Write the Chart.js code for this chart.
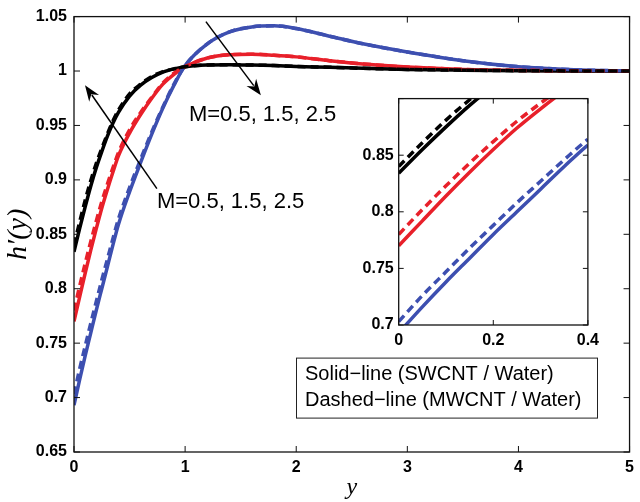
<!DOCTYPE html>
<html>
<head>
<meta charset="utf-8">
<script src="https://cdn.jsdelivr.net/npm/chart.js@4/dist/chart.umd.min.js"></script>
<style>
  html, body { margin: 0; padding: 0; background: #fff; }
  #wrap { position: relative; width: 640px; height: 502px; }
  #main { position: absolute; left: 0; top: 0; }
  #inset { position: absolute; left: 350px; top: 84px; }
</style>
</head>
<body>
<div id="wrap">
  <canvas id="main" width="640" height="502"></canvas>
  <canvas id="inset" width="255" height="268"></canvas>
</div>
<script>
// valores
const xValues = [0, 0.05, 0.1, 0.15, 0.2, 0.25, 0.3, 0.35, 0.4, 0.5, 0.6, 0.7, 0.8, 0.9, 1.0,
                 1.2, 1.4, 1.6, 1.8, 2.0, 2.3, 2.6, 3.0, 3.5, 4.0, 4.5, 5.0];

const blackSolid  = [0.834, 0.855, 0.875, 0.894, 0.911, 0.926, 0.940, 0.952, 0.962, 0.977, 0.987, 0.994, 0.999, 1.002, 1.004,
                     1.0055, 1.0058, 1.0055, 1.005, 1.0042, 1.0035, 1.0025, 1.0015, 1.0008, 1.0003, 1.0001, 1.0];
const blackDashed = [0.840, 0.861, 0.881, 0.899, 0.915, 0.929, 0.942, 0.954, 0.964, 0.979, 0.988, 0.995, 0.9995, 1.002, 1.004,
                     1.0055, 1.0058, 1.0055, 1.005, 1.0042, 1.0035, 1.0025, 1.0015, 1.0008, 1.0003, 1.0001, 1.0];
const redSolid    = [0.770, 0.792, 0.814, 0.835, 0.855, 0.874, 0.891, 0.907, 0.922, 0.943, 0.960, 0.975, 0.988, 0.997, 1.004,
                     1.012, 1.015, 1.0155, 1.0145, 1.013, 1.0095, 1.0065, 1.0037, 1.0015, 1.0006, 1.0002, 1.0];
const redDashed   = [0.780, 0.802, 0.823, 0.843, 0.862, 0.880, 0.896, 0.911, 0.925, 0.946, 0.962, 0.976, 0.989, 0.998, 1.004,
                     1.012, 1.015, 1.0155, 1.0145, 1.013, 1.0095, 1.0065, 1.0037, 1.0015, 1.0006, 1.0002, 1.0];
const blueSolid   = [0.693, 0.716, 0.738, 0.759, 0.780, 0.800, 0.820, 0.840, 0.859, 0.889, 0.916, 0.942, 0.966, 0.987, 1.005,
                     1.025, 1.036, 1.0405, 1.0415, 1.039, 1.032, 1.025, 1.0175, 1.0095, 1.004, 1.0012, 1.0];
const blueDashed  = [0.703, 0.726, 0.747, 0.768, 0.788, 0.808, 0.827, 0.846, 0.864, 0.893, 0.919, 0.944, 0.967, 0.988, 1.005,
                     1.025, 1.036, 1.0405, 1.0415, 1.039, 1.032, 1.025, 1.0175, 1.0095, 1.004, 1.0012, 1.0];

const mLabel = 'M=0.5, 1.5, 2.5';
const legendLines = ['Solid\u2212line (SWCNT / Water)', 'Dashed\u2212line (MWCNT / Water)'];

const BLACK = '#000000';
const RED = '#e8202a';
const BLUE = '#3d4fb0';

function serie(ys, color, dashed, lw) {
  return {
    data: xValues.map((x, i) => ({ x: x, y: ys[i] })),
    borderColor: color,
    borderWidth: lw,
    borderDash: dashed ? [8, 5] : [],
    pointRadius: 0,
    cubicInterpolationMode: 'monotone',
    order: dashed ? 0 : 1,
    clip: 0
  };
}

function datasets(lw) {
  return [
    serie(blackSolid, BLACK, false, lw),
    serie(redSolid, RED, false, lw),
    serie(blueSolid, BLUE, false, lw),
    serie(blackDashed, BLACK, true, lw),
    serie(redDashed, RED, true, lw),
    serie(blueDashed, BLUE, true, lw)
  ];
}

const fmt = v => String(Math.round(v * 100) / 100);

// moldura + ticks para dentro (estilo matlab)
const frameTicks = {
  id: 'frameTicks',
  beforeDraw(chart) {
    const a = chart.chartArea, c = chart.ctx;
    c.save();
    c.fillStyle = '#fff';
    c.fillRect(a.left, a.top, a.right - a.left, a.bottom - a.top);
    c.restore();
  },
  afterDraw(chart, args, opts) {
    const a = chart.chartArea, c = chart.ctx;
    const len = opts.len || 6;
    c.save();
    c.strokeStyle = '#111';
    c.lineWidth = 1.3;
    c.strokeRect(a.left, a.top, a.right - a.left, a.bottom - a.top);
    c.lineWidth = 1;
    const xs = chart.scales.x, ys = chart.scales.y;
    xs.ticks.forEach(t => {
      const px = xs.getPixelForValue(t.value);
      c.beginPath();
      c.moveTo(px, a.bottom); c.lineTo(px, a.bottom - len);
      c.moveTo(px, a.top); c.lineTo(px, a.top + len);
      c.stroke();
    });
    ys.ticks.forEach(t => {
      const py = ys.getPixelForValue(t.value);
      c.beginPath();
      c.moveTo(a.left, py); c.lineTo(a.left + len, py);
      c.moveTo(a.right, py); c.lineTo(a.right - len, py);
      c.stroke();
    });
    c.restore();
  }
};

function arrow(c, x1, y1, x2, y2) {
  const ang = Math.atan2(y2 - y1, x2 - x1);
  const hl = 16, hw = 6;
  const bx = x2 - hl * Math.cos(ang), by = y2 - hl * Math.sin(ang);
  c.beginPath();
  c.moveTo(x1, y1); c.lineTo(bx + 4 * Math.cos(ang), by + 4 * Math.sin(ang));
  c.stroke();
  c.beginPath();
  c.moveTo(x2, y2);
  c.lineTo(bx + hw * Math.sin(ang), by - hw * Math.cos(ang));
  c.lineTo(bx + 5 * Math.cos(ang), by + 5 * Math.sin(ang));
  c.lineTo(bx - hw * Math.sin(ang), by + hw * Math.cos(ang));
  c.closePath();
  c.fill();
}

const annot = {
  id: 'annot',
  afterDraw(chart) {
    const c = chart.ctx, xs = chart.scales.x, ys = chart.scales.y, a = chart.chartArea;
    const X = v => xs.getPixelForValue(v), Y = v => ys.getPixelForValue(v);
    c.save();
    c.strokeStyle = '#000';
    c.fillStyle = '#000';
    c.lineWidth = 1.5;
    arrow(c, X(0.746), Y(0.892), X(0.099), Y(0.987));
    arrow(c, X(1.187), Y(1.0454), X(1.682), Y(0.9778));
    c.font = '22px "Liberation Sans", Arial, sans-serif';
    c.textBaseline = 'middle';
    c.textAlign = 'left';
    c.fillText(mLabel, X(0.746), Y(0.880));
    c.fillText(mLabel, X(1.034), Y(0.9595));

    // caixa de legenda
    const bx = a.left + 222, by = a.top + 341, bw = 301, bh = 60;
    c.fillStyle = '#fff';
    c.fillRect(bx, by, bw, bh);
    c.strokeStyle = '#222';
    c.lineWidth = 1;
    c.strokeRect(bx + 0.5, by + 0.5, bw, bh);
    c.fillStyle = '#000';
    c.font = '20px "Liberation Sans", Arial, sans-serif';
    c.fillText(legendLines[0], bx + 9, by + 17);
    c.fillText(legendLines[1], bx + 9, by + 43);
    c.restore();
  }
};

const tickFont = { family: '"Liberation Sans", Arial, sans-serif', size: 16, weight: 'bold' };
const xTitleFont = { family: '"Liberation Serif", "DejaVu Serif", serif', size: 24, style: 'italic' };
const yTitleFont = { family: '"Liberation Serif", "DejaVu Serif", serif', size: 28, style: 'italic' };

new Chart(document.getElementById('main'), {
  type: 'line',
  data: { datasets: datasets(3.5) },
  options: {
    responsive: false,
    animation: false,
    events: [],
    layout: { padding: { left: 0, right: 10, top: 14, bottom: 0 } },
    plugins: { legend: { display: false }, tooltip: { enabled: false }, frameTicks: { len: 6 } },
    scales: {
      x: {
        type: 'linear', min: 0, max: 5,
        ticks: { stepSize: 1, font: tickFont, color: '#000', padding: 6, maxRotation: 0, callback: fmt },
        grid: { display: false, drawTicks: false },
        border: { display: false },
        title: { display: true, text: 'y', font: xTitleFont, color: '#000', padding: { top: 0, bottom: 0 } },
        afterFit: s => { s.height = 50; }
      },
      y: {
        type: 'linear', min: 0.65, max: 1.05,
        ticks: { stepSize: 0.05, font: tickFont, color: '#000', padding: 7, callback: fmt },
        grid: { display: false, drawTicks: false },
        border: { display: false },
        title: { display: true, text: 'h\u2032(y)', font: yTitleFont, color: '#000', padding: { top: 2, bottom: 0 } },
        afterFit: s => { s.width = 74; }
      }
    }
  },
  plugins: [frameTicks, annot]
});

new Chart(document.getElementById('inset'), {
  type: 'line',
  data: { datasets: datasets(3.5) },
  options: {
    responsive: false,
    animation: false,
    events: [],
    layout: { padding: { left: 0, right: 15.7, top: 7.7, bottom: 0 } },
    plugins: { legend: { display: false }, tooltip: { enabled: false }, frameTicks: { len: 5 } },
    scales: {
      x: {
        type: 'linear', min: 0, max: 0.4,
        ticks: { stepSize: 0.2, font: tickFont, color: '#000', padding: 6, maxRotation: 0, callback: fmt },
        grid: { display: false, drawTicks: false },
        border: { display: false },
        afterFit: s => { s.height = 27; }
      },
      y: {
        type: 'linear', min: 0.7, max: 0.9,
        ticks: { stepSize: 0.05, font: tickFont, color: '#000', padding: 5,
                 callback: v => v > 0.89 ? '' : fmt(v) },
        grid: { display: false, drawTicks: false },
        border: { display: false },
        afterFit: s => { s.width = 48.7; }
      }
    }
  },
  plugins: [frameTicks]
});
</script>
</body>
</html>
